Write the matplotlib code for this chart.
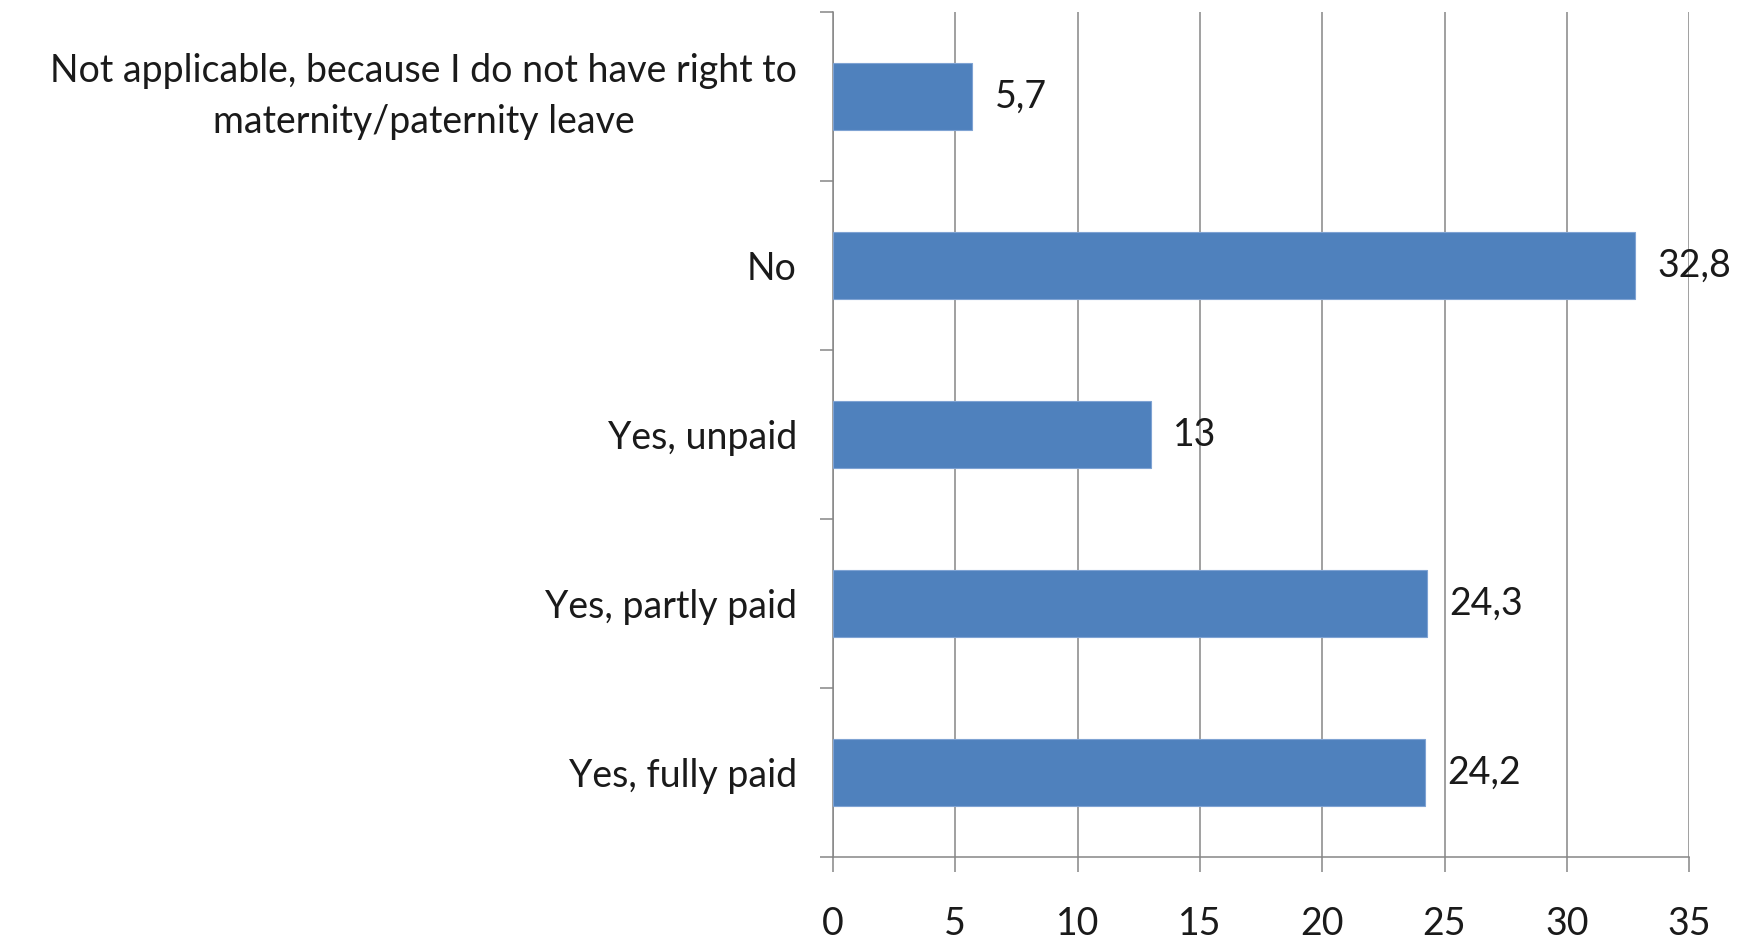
import matplotlib.pyplot as plt
from matplotlib.ticker import FixedLocator, MultipleLocator

# Survey answers, bottom to top as they appear on the chart
categories = [
    "Yes, fully paid",
    "Yes, partly paid",
    "Yes, unpaid",
    "No",
    "Not applicable, because I do not have right to\nmaternity/paternity leave",
]
values = [24.2, 24.3, 13, 32.8, 5.7]
value_labels = ["24,2", "24,3", "13", "32,8", "5,7"]
x_ticks = [0, 5, 10, 15, 20, 25, 30, 35]

BAR_COLOR = "#4F81BD"
GRID_COLOR = "#868686"
TEXT_COLOR = "#1a1a1a"
FONT = "Lato"
FS = 27

fig = plt.figure(figsize=(17.56, 9.4), dpi=100)
ax = fig.add_axes([0.4744, 0.0883, 0.4875, 0.8989])

ypos = list(range(len(categories)))
ax.barh(ypos, values, height=0.4, color=BAR_COLOR, edgecolor="#7FA3D3",
        linewidth=0.8, zorder=3)

for y, v, lab in zip(ypos, values, value_labels):
    ax.annotate(lab, (v, y), xytext=(16, 0), textcoords="offset points",
                ha="left", va="center", fontsize=FS, family=FONT,
                color=TEXT_COLOR, zorder=4)

ax.set_xlim(0, 35)
ax.set_ylim(-0.5, len(categories) - 0.5)

ax.xaxis.set_major_locator(FixedLocator(x_ticks))
ax.set_xticklabels([str(t) for t in x_ticks], fontsize=FS, family=FONT,
                   color=TEXT_COLOR)
ax.tick_params(axis="x", direction="out", length=11, width=1.1,
               color=GRID_COLOR, pad=24)

ax.set_yticks(ypos)
ax.set_yticklabels(categories, fontsize=FS, family=FONT, color=TEXT_COLOR,
                   multialignment="center", linespacing=1.5)
# two-line label: centre the whole block on the bar
for lbl in ax.get_yticklabels():
    if "\n" in lbl.get_text():
        lbl.set_verticalalignment("center")
ax.tick_params(axis="y", which="major", length=0, pad=26)
ax.yaxis.set_minor_locator(MultipleLocator(1, offset=0.5))
ax.tick_params(axis="y", which="minor", direction="out", length=9.4,
               width=1.1, color=GRID_COLOR)

ax.grid(axis="x", color=GRID_COLOR, linewidth=1.1, zorder=0)
ax.set_axisbelow(True)

for side in ("top", "right"):
    ax.spines[side].set_visible(False)
for side in ("left", "bottom"):
    ax.spines[side].set_color(GRID_COLOR)
    ax.spines[side].set_linewidth(1.1)

fig.savefig("out.png", dpi=100, facecolor="white")
